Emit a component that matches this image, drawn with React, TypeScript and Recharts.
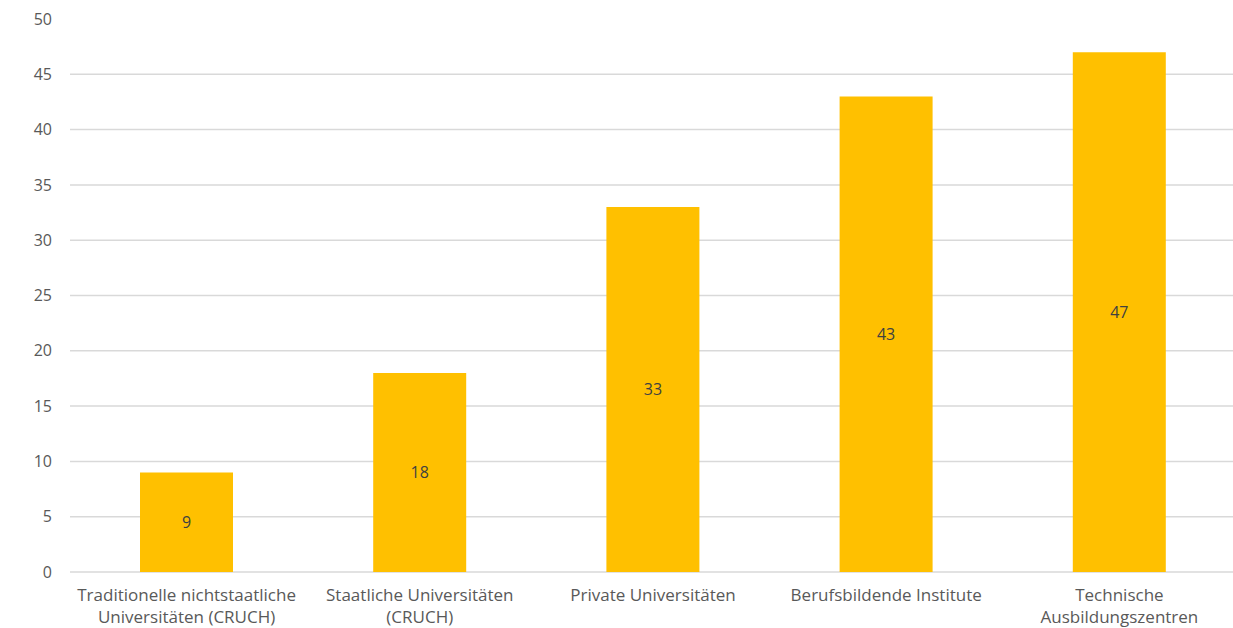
import { BarChart, Bar, XAxis, YAxis, CartesianGrid, LabelList } from 'recharts';

// Institution types (line breaks as shown under each bar)
const categories = [
  'Traditionelle nichtstaatliche\nUniversitäten (CRUCH)',
  'Staatliche Universitäten\n(CRUCH)',
  'Private Universitäten',
  'Berufsbildende Institute',
  'Technische\nAusbildungszentren',
];
const values = [9, 18, 33, 43, 47];
const yTicks = [0, 5, 10, 15, 20, 25, 30, 35, 40, 45, 50];
const gridValues = [0, 5, 10, 15, 20, 25, 30, 35, 40, 45];

const data = categories.map((name, i) => ({ name, value: values[i] }));

const FONT = '"Open Sans", Lato, sans-serif';
const TEXT = '#595959';

function CategoryTick({ x, y, payload }: any) {
  const lines = String(payload.value).split('\n');
  return (
    <text x={x} y={y} textAnchor="middle" fill={TEXT} fontSize={17} fontFamily={FONT}>
      {lines.map((line, i) => (
        <tspan key={i} x={x} dy={i === 0 ? 21 : 22}>
          {line}
        </tspan>
      ))}
    </text>
  );
}

export default function App() {
  return (
    <div style={{ position: 'absolute', left: 0, top: 0, background: '#fff', overflow: 'hidden', width: 1233, height: 628 }}>
      <BarChart
        width={1236}
        height={628}
        data={data}
        margin={{ top: 19, right: 0, bottom: 0, left: 0 }}
      >
        <CartesianGrid
          vertical={false}
          horizontalValues={gridValues}
          stroke="#d9d9d9"
          strokeWidth={1.5}
        />
        <XAxis
          dataKey="name"
          axisLine={false}
          tickLine={false}
          interval={0}
          height={56}
          tick={<CategoryTick />}
        />
        <YAxis
          width={70}
          domain={[0, 50]}
          ticks={yTicks}
          axisLine={false}
          tickLine={false}
          tickMargin={12}
          tick={{ fill: TEXT, fontSize: 16, fontFamily: FONT }}
        />
        <Bar dataKey="value" fill="#FFC000" barSize={93} isAnimationActive={false}>
          <LabelList
            dataKey="value"
            position="center"
            fill="#404040"
            fontSize={16}
            fontFamily={FONT}
          />
        </Bar>
      </BarChart>
    </div>
  );
}
